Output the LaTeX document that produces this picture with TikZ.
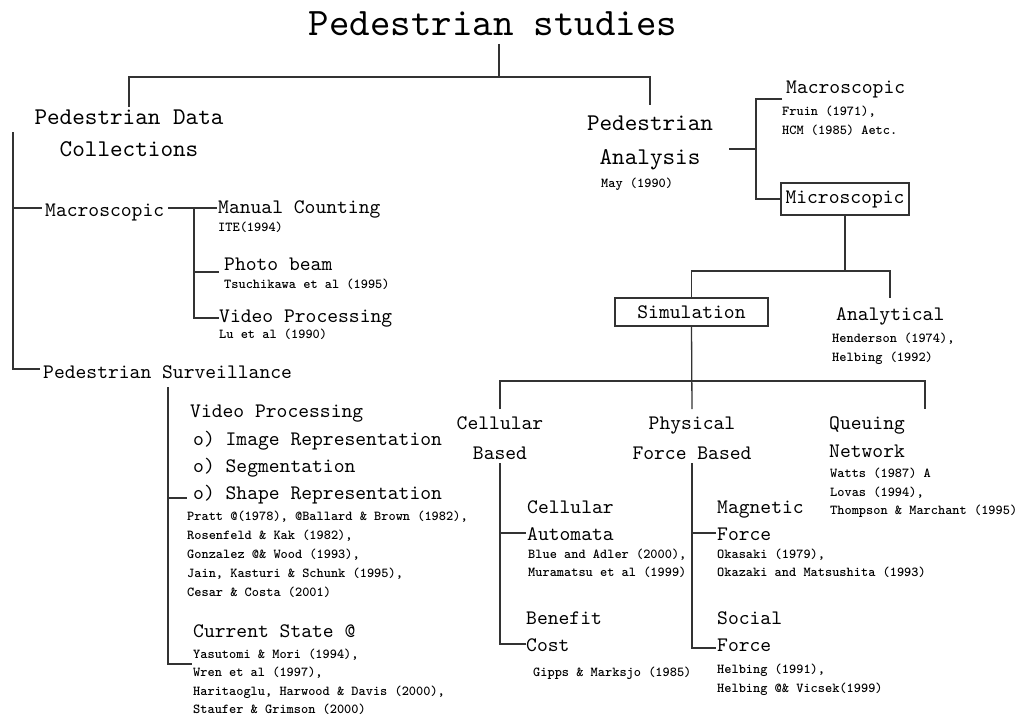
\documentclass[tikz,border=0pt]{standalone}
\usepackage{fontspec}
\newfontfamily\cour{lmmono10-regular.otf}
\newfontfamily\courb{lmmonolt10-bold.otf}
\begin{document}
\begin{tikzpicture}[x=1pt,y=-1pt,
  ln/.style={line width=1.3pt, draw=black!80},
  t/.style={inner sep=0pt, anchor=base west, text=black},
  tc/.style={inner sep=0pt, anchor=base, text=black},
  ttl/.style={font=\cour\fontsize{39}{45}\selectfont},
  big/.style={font=\cour\fontsize{24}{32}\selectfont},
  med/.style={font=\cour\fontsize{20.6}{27}\selectfont},
  ref/.style={font=\courb\fontsize{13.7}{19}\selectfont},
  box/.style={draw=black!80, line width=1.3pt, inner sep=0pt, text=black, font=\cour\fontsize{20.6}{27}\selectfont}]
\fill[white] (0,0) rectangle (1025,717);
\useasboundingbox (0,0) rectangle (1025,717);

% ---------- texts ----------
\node[tc,ttl] (title) at (493,36) {Pedestrian studies};
\node[tc,big] (pdc1) at (129,124) {Pedestrian Data};
\node[tc,big] (pdc2) at (129,156) {Collections};
\node[t,med] (lmac) at (45,216) {Macroscopic};
\node[t,med] (manual) at (218,213) {Manual Counting};
\node[t,ref] (ite) at (218,231) {ITE(1994)};
\node[t,med] (photo) at (224,270) {Photo beam};
\node[t,ref] (tsu) at (224,288) {Tsuchikawa et al (1995)};
\node[t,med] (vid1) at (219,322) {Video Processing};
\node[t,ref] (lu) at (219,338) {Lu et al (1990)};
\node[t,med] (surv) at (43,378) {Pedestrian Surveillance};
\node[t,med] (vid2) at (190,417) {Video Processing};
\node[t,med] (img) at (193,445) {o) Image Representation};
\node[t,med] (seg) at (193,472) {o) Segmentation};
\node[t,med] (shape) at (193,499) {o) Shape Representation};
\node[t,ref] (r1) at (187,520) {Pratt @(1978), @Ballard \& Brown (1982),};
\node[t,ref] (r2) at (187,539) {Rosenfeld \& Kak (1982),};
\node[t,ref] (r3) at (187,558) {Gonzalez @\& Wood (1993),};
\node[t,ref] (r4) at (187,577) {Jain, Kasturi \& Schunk (1995),};
\node[t,ref] (r5) at (187,596) {Cesar \& Costa (2001)};
\node[t,med] (cur) at (193,637) {Current State @};
\node[t,ref] (c1) at (193,658) {Yasutomi \& Mori (1994),};
\node[t,ref] (c2) at (193,676) {Wren et al (1997),};
\node[t,ref] (c3) at (193,695) {Haritaoglu, Harwood \& Davis (2000),};
\node[t,ref] (c4) at (193,713) {Staufer \& Grimson (2000)};

\node[tc,big] (pa1) at (650,130) {Pedestrian};
\node[tc,big] (pa2) at (650,164) {Analysis};
\node[t,ref] (may) at (601,187) {May (1990)};
\node[t,med] (rmac) at (786,93) {Macroscopic};
\node[t,ref] (fruin) at (782,115) {Fruin (1971),};
\node[t,ref] (hcm) at (782,134) {HCM (1985) Aetc.};
\node[box, minimum width=128pt, minimum height=32pt] (micro) at (845,199) {Microscopic};
\node[box, minimum width=153pt, minimum height=28pt] (sim) at (691.5,312) {Simulation};
\node[t,med] (ana) at (836,320) {Analytical};
\node[t,ref] (hen) at (832,342) {Henderson (1974),};
\node[t,ref] (hel92) at (832,361) {Helbing (1992)};

\node[tc,med] (cb1) at (500,429) {Cellular};
\node[tc,med] (cb2) at (500,459) {Based};
\node[tc,med] (pf1) at (692,429) {Physical};
\node[tc,med] (pf2) at (692,459) {Force Based};
\node[t,med] (qn1) at (829,429) {Queuing};
\node[t,med] (qn2) at (829,457) {Network};
\node[t,ref] (q1) at (830,477) {Watts (1987) A};
\node[t,ref] (q2) at (830,496) {Lovas (1994),};
\node[t,ref] (q3) at (830,514) {Thompson \& Marchant (1995)};

\node[t,med] (ca1) at (527,513) {Cellular};
\node[t,med] (ca2) at (527,540) {Automata};
\node[t,ref] (ca3) at (528,558) {Blue and Adler (2000),};
\node[t,ref] (ca4) at (528,576) {Muramatsu et al (1999)};
\node[t,med] (bc1) at (526,624) {Benefit};
\node[t,med] (bc2) at (526,651) {Cost};
\node[t,ref] (gipps) at (533,676) {Gipps \& Marksjo (1985)};

\node[t,med] (mf1) at (717,513) {Magnetic};
\node[t,med] (mf2) at (717,540) {Force};
\node[t,ref] (mf3) at (717,558) {Okasaki (1979),};
\node[t,ref] (mf4) at (717,576) {Okazaki and Matsushita (1993)};
\node[t,med] (sf1) at (717,624) {Social};
\node[t,med] (sf2) at (717,651) {Force};
\node[t,ref] (sf3) at (717,673) {Helbing (1991),};
\node[t,ref] (sf4) at (717,692) {Helbing @\& Vicsek(1999)};

% ---------- junction coordinates ----------
\coordinate (tA) at (499,44);
\coordinate (tB) at (499,77);
\coordinate (tL) at (129,77);
\coordinate (tLd) at (129,107);
\coordinate (tR) at (650,77);
\coordinate (tRd) at (650,105);

\coordinate (lTop) at (13,132);
\coordinate (lMac) at (13,208);
\coordinate (lMacE) at (42,208);
\coordinate (lBot) at (13,369);
\coordinate (lSurvE) at (40,369);

\coordinate (mA) at (168,208);
\coordinate (mB) at (217,208);
\coordinate (mJ) at (194,208);
\coordinate (mJ2) at (194,272);
\coordinate (mJ3) at (194,318);
\coordinate (mPh) at (219,272);
\coordinate (mVi) at (219,318);

\coordinate (sTop) at (168,387);
\coordinate (sJ) at (168,498);
\coordinate (sShape) at (187,498);
\coordinate (sBot) at (168,664);
\coordinate (sCur) at (192,664);

\coordinate (pA) at (729,149);
\coordinate (pJ) at (756,149);
\coordinate (pTop) at (756,99);
\coordinate (pMac) at (782,99);
\coordinate (pBot) at (756,199);

\coordinate (mcJ) at (845,271);
\coordinate (anT) at (890,298);

\coordinate (sLow) at (692,409);
\coordinate (cbT) at (500,409);
\coordinate (cbH) at (500,381);
\coordinate (qnH) at (925,381);
\coordinate (qnT) at (925,409);

\coordinate (cbA) at (500,463);
\coordinate (cbM) at (500,533);
\coordinate (cbMe) at (526,533);
\coordinate (cbB) at (500,644);
\coordinate (cbBe) at (526,644);

\coordinate (pfA) at (692,463);
\coordinate (pfM) at (692,533);
\coordinate (pfMe) at (716,533);
\coordinate (pfB) at (692,648);
\coordinate (pfBe) at (716,648);

% ---------- connectors ----------
\draw[ln] (tA) -- (tB);
\draw[ln] (tLd) -- (tL) -- (tR) -- (tRd);

\draw[ln] (lTop) -- (lBot) -- (lSurvE);
\draw[ln] (lMac) -- (lMacE);

\draw[ln] (mA) -- (mB);
\draw[ln] (mJ) -- (mJ3) -- (mVi);
\draw[ln] (mJ2) -- (mPh);

\draw[ln] (sTop) -- (sBot) -- (sCur);
\draw[ln] (sJ) -- (sShape);

\draw[ln] (pA) -- (pJ);
\draw[ln] (pMac) -- (pTop) -- (pBot) -- (micro.west);

\draw[ln] (micro.south) -- (mcJ);
\draw[ln] (sim.north) |- (mcJ) -| (anT);

\draw[ln] (sim.south) -- (sLow);
\draw[ln] (cbT) -- (cbH) -- (qnH) -- (qnT);

\draw[ln] (cbA) -- (cbB) -- (cbBe);
\draw[ln] (cbM) -- (cbMe);
\draw[ln] (pfA) -- (pfB) -- (pfBe);
\draw[ln] (pfM) -- (pfMe);
\end{tikzpicture}
\end{document}
